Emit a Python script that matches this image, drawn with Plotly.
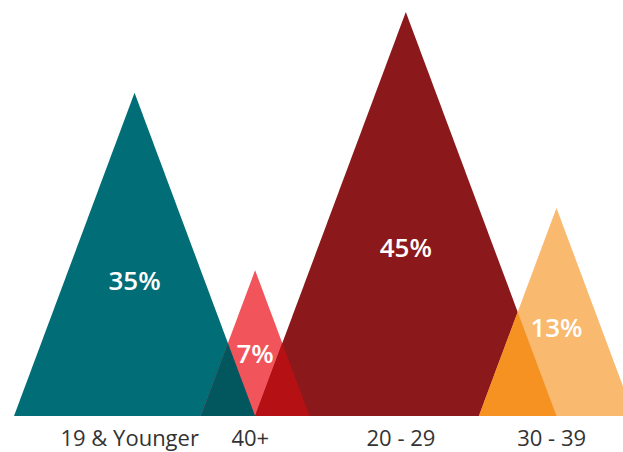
import plotly.graph_objects as go

# ---- data ----
categories = ["19 & Younger", "40+", "20 - 29", "30 - 39"]
values = [35, 7, 45, 13]                       # percentage labels
peak_heights = [0.80, 0.361, 1.00, 0.515]      # relative peak heights (tallest = 1)
colors = ["#006d77", "#f2545b", "#8b181b", "#f9b96e"]
overlap_colors = ["#02575f", "#b51014", "#f59222"]

# ---- geometry (all triangles share the same shape) ----
HALF = 0.373          # base half-width as a fraction of height
LEFT = 14 / 404       # left edge of first triangle
W_PX, H_PX = 623, 452
UNIT = 404            # pixels per unit height
BASE_PX = 36          # pixels below baseline

halfw = [HALF * h for h in peak_heights]
centers = [LEFT + halfw[0]]
centers.append(centers[0] + halfw[0])
centers.append(centers[1] + halfw[2])
centers.append(centers[2] + halfw[2])

fig = go.Figure()

for c, h, w, col in zip(centers, peak_heights, halfw, colors):
    fig.add_trace(go.Scatter(
        x=[c - w, c, c + w, c - w], y=[0, h, 0, 0],
        mode="lines", fill="toself", fillcolor=col,
        line=dict(width=0, color=col), hoverinfo="skip", showlegend=False))

# overlaps between neighbouring triangles
for i in range(len(centers) - 1):
    ca, wa = centers[i], halfw[i]
    cb, wb = centers[i + 1], halfw[i + 1]
    ra, lb = ca + wa, cb - wb
    if lb < ra:
        xi = (ra + lb) / 2
        yi = (ra - xi) / HALF
        fig.add_trace(go.Scatter(
            x=[lb, xi, ra, lb], y=[0, yi, 0, 0],
            mode="lines", fill="toself", fillcolor=overlap_colors[i],
            line=dict(width=0, color=overlap_colors[i]),
            hoverinfo="skip", showlegend=False))

# percentage labels
fig.add_trace(go.Scatter(
    x=centers, y=[0.41 * h for h in peak_heights],
    mode="text", text=[f"{v}%" for v in values],
    textfont=dict(family="Open Sans", size=26, color="white", weight=600),
    hoverinfo="skip", showlegend=False))

# category labels
fig.add_trace(go.Scatter(
    x=[c - 0.012 for c in centers], y=[-24 / UNIT] * len(centers),
    mode="text", text=categories,
    textfont=dict(family="Open Sans", size=22, color="#333333"),
    hoverinfo="skip", showlegend=False))

fig.update_layout(
    width=W_PX, height=H_PX,
    margin=dict(l=0, r=0, t=0, b=0),
    paper_bgcolor="white", plot_bgcolor="white",
    hovermode=False,
    xaxis=dict(range=[0, W_PX / UNIT], visible=False, fixedrange=True),
    yaxis=dict(range=[-BASE_PX / UNIT, (H_PX - BASE_PX) / UNIT], visible=False, fixedrange=True),
)

fig.write_html("out.html", config={"displayModeBar": False},
               post_script="document.body.style.margin='0';")
